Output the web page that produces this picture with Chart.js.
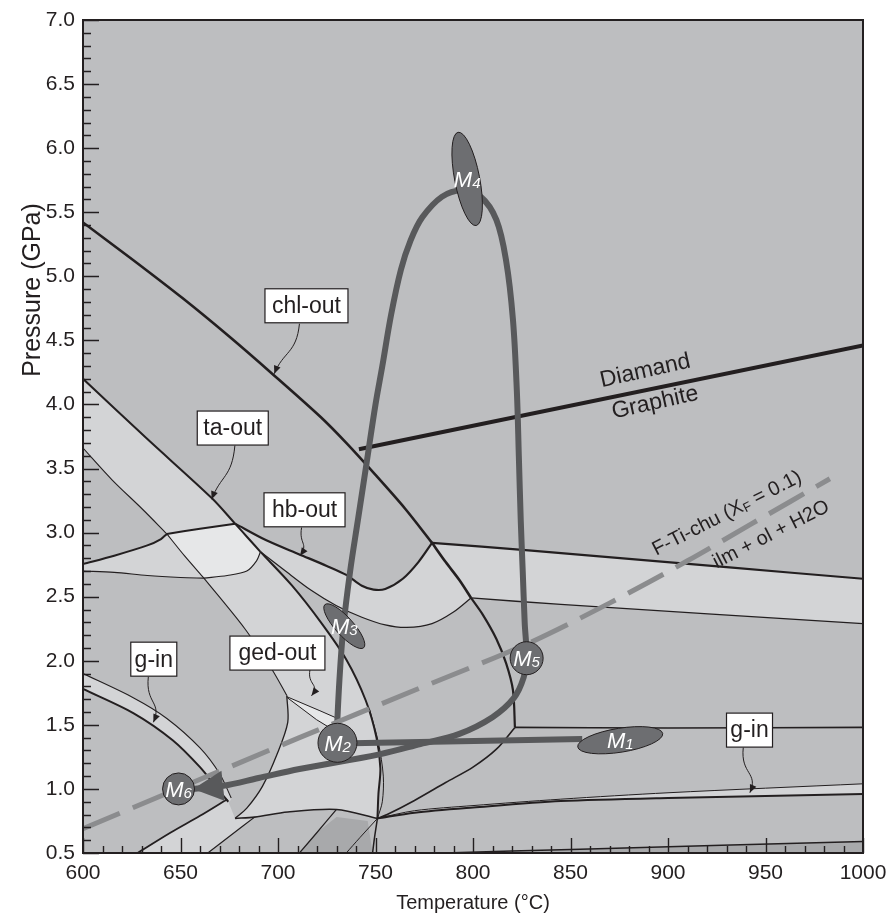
<!DOCTYPE html>
<html>
<head>
<meta charset="utf-8">
<title>P–T path</title>
<script src="https://cdn.jsdelivr.net/npm/chart.js@4.4.1/dist/chart.umd.min.js"></script>
<style>
html,body{margin:0;padding:0;background:#ffffff;}
#box{position:relative;width:887px;height:913px;}
</style>
</head>
<body>
<div id="box"><canvas id="chart" width="887" height="913"></canvas></div>
<script>
const FONT = "'Liberation Sans', Arial, Helvetica, sans-serif";
const INK = '#231f20';
const BASE = '#bdbec0';
const LIGHT = '#d3d4d6';
const LIGHTEST = '#e6e7e8';
const DARK = '#a8a9ab';
const PATH = '#58595b';
const MARK = '#6d6e71';
const DASH = '#8b8c8e';

// axis tick labels
const tempTicks = [600, 650, 700, 750, 800, 850, 900, 950, 1000];
const pressTicks = [0.5, 1.0, 1.5, 2.0, 2.5, 3.0, 3.5, 4.0, 4.5, 5.0, 5.5, 6.0, 6.5, 7.0];
const tempMinorStep = 10;
const pressMinorStep = 0.1;

// phase boundaries, [T (°C), P (GPa)], split at their junctions
const chlOutA = [[600,5.42],[625,5.135],[651,4.83],[675,4.53],[697,4.24],[722,3.90],[735,3.70],[750,3.45],[765,3.19],[779,2.92]];
const chlOutB = [[779,2.92],[786,2.77],[793,2.63],[799,2.49]];
const chlOutC = [[799,2.49],[805,2.36],[812,2.17],[817,1.98],[820.5,1.77],[821.5,1.48]];
const taOutA = [[600,4.20],[633,3.73],[666,3.27],[678,3.07]];
const taOutB = [[678,3.07],[684.5,2.96],[691,2.85]];
const taOutC = [[691,2.85],[707,2.59],[722,2.30],[735,2.01],[745,1.69],[750.5,1.40],[752.5,1.16],[751.5,0.96],[751,0.77]];
const taOutTail = [[751,0.77],[749.5,0.62],[748.5,0.5]];
const taInnerA = [[600,3.66],[615,3.41],[630,3.19],[643,2.99]];
const taInnerB = [[643,2.99],[652,2.82],[662,2.645]];
const taInnerC = [[662,2.645],[683,2.25],[697,1.93],[704.5,1.73]];
const taInnerD = [[704.5,1.73],[705,1.52],[699.5,1.27],[692,1.02],[684,0.85],[678,0.77]];
const taSliver = [[747,1.62],[751.5,1.36],[754,1.10],[753.5,0.90],[751,0.77]];
const hbOut = [[678,3.07],[694,2.94],[711,2.83],[725,2.74],[735,2.67],[743,2.585],[749,2.555],[755,2.56],[764,2.64],[772,2.77],[779,2.92]];
const hbLower = [[691,2.85],[703,2.71],[717,2.55],[730,2.43],[743,2.34],[755,2.28],[766,2.26],[779,2.29],[790,2.38],[799,2.49]];
const leftThickA = [[600,2.755],[616,2.82],[633,2.90],[640,2.95],[643,2.99]];
const leftThickB = [[643,2.99],[660,3.03],[678,3.07]];
const leftThinA = [[600,2.70],[616,2.69],[633,2.665],[650,2.65],[662,2.645]];
const leftThinB = [[662,2.645],[674,2.665],[684,2.70],[689,2.78],[691,2.85]];
const bandTopRight = [[779,2.92],[830,2.86],[930,2.73],[1000,2.64]];
const bandBottomRight = [[799,2.49],[845,2.44],[1000,2.29]];
const flatRight = [[821.5,1.48],[900,1.475],[1000,1.48]];
const chlLower = [[821.5,1.48],[812,1.31],[800,1.17],[786,1.05],[770,0.91],[756,0.80],[751,0.77]];
const gInRightUpper = [[751,0.77],[770,0.83],[800,0.87],[845,0.92],[900,0.97],[1000,1.04]];
const gInRightLower = [[751,0.77],[770,0.815],[800,0.855],[845,0.905],[900,0.93],[1000,0.96]];
const bottomRight = [[785,0.5],[855,0.53],[1000,0.59]];
const gInLeftUpper = [[600,1.90],[626,1.71],[643,1.55],[660,1.32],[670,1.12],[676,0.93]];
const gInLeftLower = [[600,1.78],[626,1.59],[646,1.38],[660,1.17],[668.5,1.01],[674.5,0.90]];
const lowLeft = [[628,0.5],[645,0.66],[660,0.79],[674,0.92]];
const hexTop = [[678,0.77],[688,0.78],[705,0.82],[730,0.84],[751,0.77]];
const lowMid1 = [[688,0.78],[676,0.64],[664,0.5]];
const lowMid2 = [[730,0.84],[720,0.66],[711,0.5]];
const lowMid3 = [[751,0.77],[742,0.62],[735,0.5]];
const gedUpper = [[704.5,1.72],[721.5,1.61],[733.5,1.53]];
const gedLower = [[704.5,1.715],[719.8,1.54],[728.4,1.46]];
const diamondGraphite = [[741.5,3.65],[1000,4.46]];
const fTiChu = [[600,0.69],[650,1.01],[711,1.40],[770,1.77],[827.5,2.13],[870,2.45],[910,2.78],[943,3.07],[983,3.42]];

// metamorphic path
const pathLoop = [[730,1.40],[731.5,1.85],[733.5,2.26],[737,2.70],[741,3.10],[745.5,3.55],[750,4.00],[753.5,4.30],[758,4.70],[763,5.05],[768,5.28],[774,5.46],[784,5.62],[794,5.67],[804,5.62],[812,5.44],[817,5.12],[820.5,4.66],[822.5,4.10],[823.5,3.60],[824.5,3.09],[825.5,2.70],[826.5,2.30],[827.5,2.02],[826,1.87],[821,1.71],[810,1.56],[793,1.43],[773,1.35],[752,1.27],[711,1.155],[690,1.085],[672,1.025],[656.5,1.0]];
const pathM1M2 = [[731,1.355],[856,1.39]];

// metamorphic stages
const stageNames = ['1','2','3','4','5','6'];
const stageT = [875.5, 730.5, 734, 797, 827.5, 649];
const stageP = [1.38, 1.36, 2.27, 5.76, 2.02, 1.0];

// boxed reaction labels and their leader arrows
const boxText = ['chl-out','ta-out','hb-out','g-in','ged-out','g-in'];
const boxT = [714.6, 676.8, 713.6, 636.3, 699.7, 941.8];
const boxP = [4.77, 3.816, 3.178, 2.0125, 2.06, 1.459];
const leaderFrom = [[711.0,4.63],[677.9,3.68],[712.1,3.04],[633.5,1.875],[716.4,1.93],[938.6,1.323]];
const leaderTo = [[698.1,4.24],[666.0,3.26],[711.3,2.82],[636.1,1.52],[717.2,1.727],[942.0,0.971]];

const toXY = pts => pts.map(([t, p]) => ({x: t, y: p}));
const lineSet = (pts, w, extra) => Object.assign({
  data: toXY(pts), borderColor: INK, borderWidth: w, pointRadius: 0, pointHoverRadius: 0,
  fill: false, tension: 0.3, order: 20
}, extra || {});
const areaSet = (pts, color, extra) => Object.assign({
  data: toXY(pts), borderColor: 'rgba(0,0,0,0)', borderWidth: 1, backgroundColor: color,
  pointRadius: 0, pointHoverRadius: 0, fill: 'shape', tension: 0.3, order: 50
}, extra || {});
const rev = a => a.slice().reverse();

// region outlines are chained from the full boundary segments (shared end points repeated),
// so each filled edge follows exactly the same spline as its drawn boundary
const taBandPoly = [...taOutA, ...taOutB, ...taOutC, ...rev(hexTop), ...rev(taInnerD), ...rev(taInnerC), ...rev(taInnerB), ...rev(taInnerA), [600,3.66], [600,4.20]];
const hbBandPoly = [...hbOut, ...bandTopRight, [1000,2.64], [1000,2.29], [1000,2.29], ...rev(bandBottomRight), ...rev(hbLower), ...rev(taOutB)];
const boxPoly = [...leftThickB, ...taOutB, ...rev(leftThinB), ...rev(taInnerB)];
const wedgePoly = [...leftThickA, ...taInnerB, ...rev(leftThinA), [600,2.70], [600,2.755]];
const gInLeftPoly = [...gInLeftUpper, ...rev(gInLeftLower), [600,1.78], [600,1.90]];
const gInRightPoly = [...gInRightUpper, [1000,1.04], [1000,0.96], ...rev(gInRightLower)];
const bottomRightPoly = [...bottomRight, [1000,0.59], [1000,0.5], [1000,0.5], [785,0.5]];
const lowLeftPoly = [...lowLeft, [674,0.92], [678,0.77], [678,0.77], [688,0.78], ...lowMid1, [664,0.5], [628,0.5]];
const lowDarkPoly = [[711,0.5],[720,0.66],[730,0.78],[746,0.75],[748.5,0.5]];
const gedPoly = [...gedUpper, ...rev(gedLower)];

const datasets = [
  areaSet(taBandPoly, LIGHT),
  areaSet(hbBandPoly, LIGHT),
  areaSet(wedgePoly, LIGHT),
  areaSet(gInLeftPoly, LIGHT),
  areaSet(gInRightPoly, LIGHT),
  areaSet(lowLeftPoly, LIGHT),
  areaSet(bottomRightPoly, DARK, {tension: 0}),
  areaSet(lowDarkPoly, DARK, {order: 45, tension: 0}),
  areaSet(boxPoly, LIGHTEST, {order: 45}),
  areaSet(gedPoly, LIGHTEST, {order: 45, tension: 0}),

  lineSet(chlOutA, 2.6),
  lineSet(chlOutB, 2.6),
  lineSet(chlOutC, 2.2),
  lineSet(taOutA, 2),
  lineSet(taOutB, 2),
  lineSet(taOutC, 2),
  lineSet(taOutTail, 1.5),
  lineSet(taInnerA, 1.1),
  lineSet(taInnerB, 1.1),
  lineSet(taInnerC, 1.1),
  lineSet(taInnerD, 1.3),
  lineSet(taSliver, 1),
  lineSet(hbOut, 2.2),
  lineSet(hbLower, 1.2),
  lineSet(leftThickA, 2),
  lineSet(leftThickB, 2),
  lineSet(leftThinA, 1.1),
  lineSet(leftThinB, 1.1),
  lineSet(bandTopRight, 2.2),
  lineSet(bandBottomRight, 1.3),
  lineSet(flatRight, 1.6),
  lineSet(chlLower, 1.6),
  lineSet(gInRightUpper, 1),
  lineSet(gInRightLower, 2),
  lineSet(bottomRight, 1.5),
  lineSet(gInLeftUpper, 1.1),
  lineSet(gInLeftLower, 2),
  lineSet(lowLeft, 1.8),
  lineSet(hexTop, 1.6),
  lineSet(lowMid1, 1.2),
  lineSet(lowMid2, 1.2),
  lineSet(lowMid3, 1),
  lineSet(gedUpper, 1, {tension: 0}),
  lineSet(gedLower, 1, {tension: 0}),
  lineSet(diamondGraphite, 4, {tension: 0, order: 15}),

  lineSet(pathLoop, 6, {borderColor: PATH, order: 8, tension: 0.35}),
  lineSet(pathM1M2, 6, {borderColor: PATH, order: 8, tension: 0}),
  lineSet(fTiChu, 5, {borderColor: DASH, borderDash: [40, 14], order: 5, tension: 0.3})
];

function rotatedText(ctx, x, y, angleDeg, parts) {
  ctx.save();
  ctx.translate(x, y);
  ctx.rotate(angleDeg * Math.PI / 180);
  let cx = 0;
  for (const [txt, size, dy] of parts) {
    ctx.font = size + 'px ' + FONT;
    ctx.fillText(txt, cx, dy);
    cx += ctx.measureText(txt).width;
  }
  ctx.restore();
}

const diagramDecor = {
  id: 'diagramDecor',
  beforeDatasetsDraw(chart) {
    const {ctx, chartArea: a} = chart;
    ctx.save();
    ctx.fillStyle = BASE;
    ctx.fillRect(a.left, a.top, a.right - a.left, a.bottom - a.top);
    ctx.restore();
  },
  afterDatasetsDraw(chart) {
    const {ctx, chartArea: a, scales: {x, y}} = chart;
    const P = (t, p) => [x.getPixelForValue(t), y.getPixelForValue(p)];

    ctx.save();
    ctx.beginPath();
    ctx.rect(a.left, a.top, a.right - a.left, a.bottom - a.top);
    ctx.clip();

    // arrowhead at the end of the path
    {
      const n = pathLoop.length;
      const [tx, ty] = P(...pathLoop[n - 1]);
      const [bx, by] = P(...pathLoop[n - 2]);
      const d = Math.hypot(tx - bx, ty - by);
      const ux = (tx - bx) / d, uy = (ty - by) / d;
      const L = 30, W = 15;
      ctx.fillStyle = PATH;
      ctx.beginPath();
      ctx.moveTo(tx, ty);
      ctx.lineTo(tx - ux * L - uy * W, ty - uy * L + ux * W);
      ctx.lineTo(tx - ux * L + uy * W, ty - uy * L - ux * W);
      ctx.closePath();
      ctx.fill();
    }

    // stage markers
    const shapes = [
      {rx: 43, ry: 12, rot: -9}, {rx: 19.5, ry: 19.5, rot: 0}, {rx: 29, ry: 9, rot: 48},
      {rx: 47.5, ry: 12.5, rot: 79}, {rx: 16.5, ry: 16.5, rot: 0}, {rx: 16, ry: 16, rot: 0}
    ];
    stageNames.forEach((num, i) => {
      const [cx, cy] = P(stageT[i], stageP[i]);
      const s = shapes[i];
      ctx.beginPath();
      ctx.ellipse(cx, cy, s.rx, s.ry, s.rot * Math.PI / 180, 0, Math.PI * 2);
      ctx.fillStyle = MARK;
      ctx.fill();
      ctx.lineWidth = 1;
      ctx.strokeStyle = INK;
      ctx.stroke();
      ctx.fillStyle = '#ffffff';
      ctx.textBaseline = 'alphabetic';
      ctx.textAlign = 'left';
      ctx.font = 'italic 22px ' + FONT;
      const wM = ctx.measureText('M').width;
      ctx.font = 'italic 15px ' + FONT;
      const wN = ctx.measureText(num).width;
      const x0 = cx - (wM + wN) / 2;
      const base = cy + 8;
      ctx.font = 'italic 22px ' + FONT;
      ctx.fillText('M', x0, base);
      ctx.font = 'italic 15px ' + FONT;
      ctx.fillText(num, x0 + wM, base + 1);
    });

    // curve labels
    ctx.fillStyle = INK;
    ctx.textAlign = 'left';
    ctx.textBaseline = 'alphabetic';
    {
      const [dx1, dy1] = P(866, 4.135);
      rotatedText(ctx, dx1, dy1, -12.5, [['Diamand', 23, 0]]);
      const [dx2, dy2] = P(872, 3.89);
      rotatedText(ctx, dx2, dy2, -12.5, [['Graphite', 23, 0]]);
      const [fx, fy] = P(894, 2.82);
      rotatedText(ctx, fx, fy, -27, [['F-Ti-chu (X', 20, 0], ['F', 13, 2], [' = 0.1)', 20, 0]]);
      const [ix, iy] = P(925, 2.72);
      rotatedText(ctx, ix, iy, -27, [['ilm + ol + H2O', 20, 0]]);
    }

    // leader arrows
    ctx.strokeStyle = INK;
    ctx.fillStyle = INK;
    ctx.lineWidth = 1;
    leaderFrom.forEach((f, i) => {
      const [sx, sy] = P(...f);
      const [tx, ty] = P(...leaderTo[i]);
      const dy = ty - sy;
      const c1x = sx - 3, c1y = sy + dy * 0.6;
      const c2x = tx + 9, c2y = ty - dy * 0.45;
      ctx.beginPath();
      ctx.moveTo(sx, sy);
      ctx.bezierCurveTo(c1x, c1y, c2x, c2y, tx, ty);
      ctx.stroke();
      const d = Math.hypot(tx - c2x, ty - c2y);
      const ux = (tx - c2x) / d, uy = (ty - c2y) / d;
      ctx.beginPath();
      ctx.moveTo(tx, ty);
      ctx.lineTo(tx - ux * 8 - uy * 3.5, ty - uy * 8 + ux * 3.5);
      ctx.lineTo(tx - ux * 8 + uy * 3.5, ty - uy * 8 - ux * 3.5);
      ctx.closePath();
      ctx.fill();
    });

    // boxed labels
    const boxW = [83, 71, 81, 46, 95, 46];
    ctx.font = '23px ' + FONT;
    ctx.textAlign = 'center';
    ctx.textBaseline = 'middle';
    boxText.forEach((txt, i) => {
      const [cx, cy] = P(boxT[i], boxP[i]);
      const w = boxW[i], h = 34;
      ctx.fillStyle = '#ffffff';
      ctx.fillRect(cx - w / 2, cy - h / 2, w, h);
      ctx.strokeStyle = INK;
      ctx.lineWidth = 1.2;
      ctx.strokeRect(cx - w / 2, cy - h / 2, w, h);
      ctx.fillStyle = INK;
      ctx.fillText(txt, cx, cy + 1);
    });
    ctx.restore();

    // inward tick marks
    ctx.save();
    ctx.strokeStyle = INK;
    ctx.lineWidth = 1.4;
    ctx.beginPath();
    for (let t = 600; t <= 1000; t += tempMinorStep) {
      const px = Math.round(x.getPixelForValue(t)) + 0.5;
      const len = tempTicks.includes(t) ? 15 : 7;
      ctx.moveTo(px, a.bottom);
      ctx.lineTo(px, a.bottom - len);
    }
    for (let k = 0; k <= 65; k++) {
      const p = 0.5 + k * pressMinorStep;
      const py = Math.round(y.getPixelForValue(p)) + 0.5;
      const major = k % 5 === 0;
      ctx.moveTo(a.left, py);
      ctx.lineTo(a.left + (major ? 16 : 8), py);
    }
    ctx.stroke();
    ctx.lineWidth = 2;
    ctx.strokeRect(a.left, a.top, a.right - a.left, a.bottom - a.top);

    // axis titles
    ctx.fillStyle = INK;
    ctx.textAlign = 'center';
    ctx.textBaseline = 'middle';
    ctx.font = '20px ' + FONT;
    ctx.fillText('Temperature (°C)', (a.left + a.right) / 2, 903);
    ctx.translate(33, 290);
    ctx.rotate(-Math.PI / 2);
    ctx.font = '25px ' + FONT;
    ctx.fillText('Pressure (GPa)', 0, 0);
    ctx.restore();
  }
};

new Chart(document.getElementById('chart'), {
  type: 'line',
  data: {datasets},
  options: {
    responsive: false,
    animation: false,
    devicePixelRatio: 1,
    events: [],
    layout: {padding: {left: 0, right: 24, top: 20, bottom: 0}},
    plugins: {legend: {display: false}, tooltip: {enabled: false}},
    scales: {
      x: {
        type: 'linear', min: 600, max: 1000,
        afterBuildTicks: s => { s.ticks = tempTicks.map(v => ({value: v})); },
        ticks: {autoSkip: false, maxRotation: 0, minRotation: 0, padding: 8, color: INK,
                font: {family: FONT, size: 21}, callback: v => String(v)},
        grid: {display: false, drawTicks: false},
        border: {display: false},
        afterFit: s => { s.height = 60; s.paddingLeft = 0; s.paddingRight = 0; }
      },
      y: {
        type: 'linear', min: 0.5, max: 7.0,
        afterBuildTicks: s => { s.ticks = pressTicks.map(v => ({value: v})); },
        ticks: {autoSkip: false, padding: 8, color: INK,
                font: {family: FONT, size: 21}, callback: v => Number(v).toFixed(1)},
        grid: {display: false, drawTicks: false},
        border: {display: false},
        afterFit: s => { s.width = 83; s.paddingTop = 0; s.paddingBottom = 0; }
      }
    }
  },
  plugins: [diagramDecor]
});
</script>
</body>
</html>
